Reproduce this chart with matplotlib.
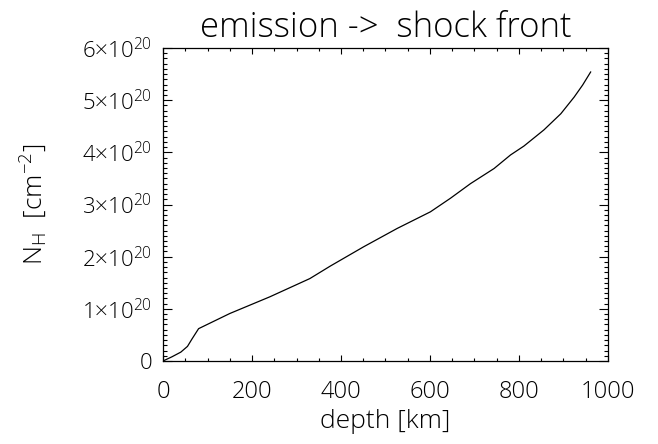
import matplotlib
matplotlib.use("Agg")
import matplotlib.pyplot as plt
from matplotlib.ticker import MultipleLocator, FixedLocator, FixedFormatter

depth_km = [0, 20, 40, 55, 65, 80, 150, 240, 330, 376, 451, 526, 601, 646,
            691, 744, 781, 811, 856, 894, 924, 943, 961]
nh_1e20 = [0.0, 0.08, 0.17, 0.28, 0.42, 0.62, 0.91, 1.23, 1.58, 1.82, 2.19,
           2.54, 2.86, 3.12, 3.40, 3.69, 3.95, 4.12, 4.43, 4.74, 5.06, 5.29, 5.54]

xticks = [0, 200, 400, 600, 800, 1000]
yticks = [0, 1, 2, 3, 4, 5, 6]
ytick_labels = ["0"] + [f"{v}×10$^{{20}}$" for v in yticks[1:]]

plt.rcParams["font.family"] = ["Open Sans", "DejaVu Sans"]
plt.rcParams["font.weight"] = "light"
plt.rcParams["axes.titleweight"] = "light"
plt.rcParams["axes.labelweight"] = "light"
plt.rcParams["mathtext.fontset"] = "custom"
plt.rcParams["mathtext.rm"] = "Open Sans:light"
plt.rcParams["mathtext.it"] = "Open Sans:light"
plt.rcParams["mathtext.default"] = "rm"

fig = plt.figure(figsize=(6.58, 4.44), dpi=100)
ax = fig.add_axes([163/658, 1-361/444, 445/658, 313/444])

ax.plot(depth_km, nh_1e20, color="black", lw=0.9)

ax.set_xlim(0, 1000)
ax.set_ylim(0, 6)
ax.xaxis.set_major_locator(FixedLocator(xticks))
ax.xaxis.set_minor_locator(MultipleLocator(50))
ax.yaxis.set_major_locator(FixedLocator(yticks))
ax.yaxis.set_major_formatter(FixedFormatter(ytick_labels))
ax.yaxis.set_minor_locator(MultipleLocator(0.1))

ax.tick_params(axis="both", which="both", direction="in", top=True, right=True,
               colors="black", width=0.8)
ax.tick_params(axis="x", which="major", length=4.5, labelsize=17, pad=14)
ax.tick_params(axis="x", which="minor", length=2.3)
ax.tick_params(axis="y", which="major", length=6.5, labelsize=16, pad=8)
ax.tick_params(axis="y", which="minor", length=3.2)
for s in ax.spines.values():
    s.set_linewidth(0.9)

ax.set_xlabel("depth [km]", fontsize=19, labelpad=3)
ax.set_ylabel("N$_{H}$  [cm$^{-2}$]", fontsize=19, labelpad=24)
ax.set_title("emission ->  shock front", fontsize=25, pad=8)

fig.savefig("out.png", dpi=100)
